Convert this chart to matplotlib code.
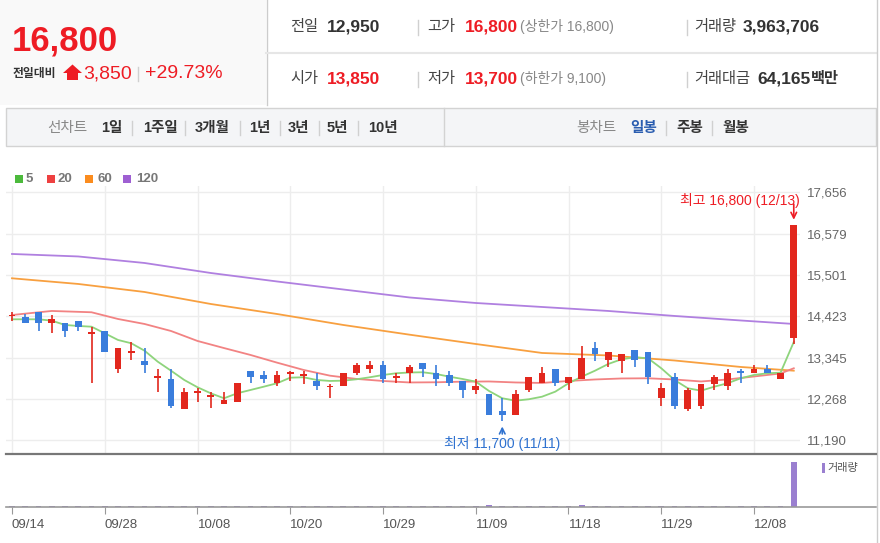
import numpy as np
import matplotlib
matplotlib.use('Agg')
import matplotlib.pyplot as plt
from matplotlib.patches import Rectangle, Polygon
from matplotlib.lines import Line2D

plt.rcParams['font.family'] = ['Liberation Sans', 'Noto Sans CJK KR']

# ---- data ----
dates = ['09/14', '09/15', '09/16', '09/17', '09/23', '09/24', '09/27', '09/28', '09/29', '09/30',
         '10/01', '10/05', '10/06', '10/07', '10/08', '10/12', '10/13', '10/14', '10/15', '10/18',
         '10/19', '10/20', '10/21', '10/22', '10/25', '10/26', '10/27', '10/28', '10/29', '11/01',
         '11/02', '11/03', '11/04', '11/05', '11/08', '11/09', '11/10', '11/11', '11/12', '11/15',
         '11/16', '11/17', '11/18', '11/19', '11/22', '11/23', '11/24', '11/25', '11/26', '11/29',
         '11/30', '12/01', '12/02', '12/03', '12/06', '12/07', '12/08', '12/09', '12/10', '12/13']

opens = [14450, 14400, 14550, 14250, 14250, 14300, 14000, 14050, 13050, 13500,
         13250, 12850, 12800, 12000, 12450, 12350, 12150, 12200, 13000, 12900,
         12700, 12950, 12900, 12750, 12600, 12600, 12950, 13050, 13150, 12850,
         12950, 13200, 12950, 12900, 12750, 12500, 12400, 11950, 11850, 12500,
         12700, 13050, 12700, 12800, 13600, 13300, 13250, 13550, 13500, 12300,
         12850, 12000, 12100, 12650, 12600, 13000, 12950, 13050, 12800, 13850]
highs = [14550, 14500, 14550, 14450, 14250, 14300, 14150, 14050, 13600, 13750,
         13600, 13050, 13050, 12550, 12550, 12450, 12450, 12700, 13000, 13000,
         13000, 13000, 13000, 12950, 12650, 12950, 13200, 13250, 13250, 12950,
         13150, 13200, 13150, 13000, 12750, 12800, 12400, 12300, 12500, 12850,
         13100, 13050, 12850, 13650, 13750, 13500, 13450, 13550, 13500, 12700,
         12950, 12550, 12650, 12900, 13050, 13050, 13150, 13150, 12950, 16800]
lows = [14300, 14250, 14050, 14000, 13900, 14050, 12700, 13500, 12950, 13300,
        12950, 12450, 12050, 12000, 12200, 12050, 12150, 12200, 12700, 12700,
        12600, 12750, 12650, 12500, 12300, 12600, 12900, 12950, 12700, 12700,
        12700, 12850, 12600, 12600, 12300, 12400, 11850, 11700, 11850, 12450,
        12700, 12600, 12500, 12800, 13250, 13100, 12950, 13100, 12650, 12100,
        12000, 11950, 12000, 12500, 12500, 12700, 12950, 12950, 12800, 13700]
closes = [14450, 14250, 14250, 14350, 14050, 14150, 14000, 13500, 13600, 13500,
          13150, 12850, 12100, 12450, 12450, 12350, 12250, 12700, 12850, 12800,
          12900, 12950, 12900, 12600, 12600, 12950, 13150, 13150, 12800, 12850,
          13100, 13050, 12800, 12700, 12500, 12600, 11850, 11850, 12400, 12850,
          12950, 12700, 12850, 13350, 13450, 13500, 13450, 13300, 12850, 12550,
          12100, 12500, 12650, 12850, 12950, 12950, 13050, 12950, 12950, 16800]
volumes = [6000, 5000, 7000, 4000, 5000, 4000, 8000, 7000, 7000, 4000,
           5000, 6000, 8000, 5000, 3000, 3000, 3000, 5000, 4000, 3000,
           4000, 2000, 2000, 3000, 3000, 4000, 5000, 3000, 4000, 2000,
           3000, 3000, 3000, 3000, 4000, 3000, 160000, 8000, 7000, 6000,
           5000, 5000, 4000, 150000, 7000, 5000, 5000, 4000, 6000, 5000,
           7000, 6000, 5000, 4000, 5000, 3000, 3000, 3000, 4000, 3963706]

ma5 = [14350, 14350, 14350, 14314, 14202, 14176, 14157, 13985, 13811, 13725,
       13532, 13245, 13010, 12768, 12578, 12421, 12291, 12421, 12507, 12593,
       12682, 12828, 12838, 12768, 12742, 12750, 12786, 12838, 12898, 12943,
       12963, 12969, 12924, 12854, 12794, 12724, 12481, 12291, 12228, 12265,
       12332, 12463, 12682, 12854, 13010, 13185, 13307, 13360, 13334, 13073,
       12768, 12552, 12489, 12593, 12682, 12812, 12898, 12943, 12958, 13758]
ma20_idx = [0, 3, 6, 8, 10, 12, 14, 16, 18, 20, 22, 24, 26, 28, 30, 32, 34, 36, 38, 40,
            42, 44, 46, 48, 50, 52, 54, 56, 58, 59]
ma20 = [14462, 14567, 14533, 14358, 14228, 14045, 13785, 13600, 13420, 13220, 13030, 12880,
        12795, 12742, 12703, 12708, 12724, 12729, 12703, 12690, 12742, 12781, 12807, 12812,
        12781, 12729, 12781, 12859, 12937, 13073]
ma_long_idx = [0, 5, 10, 15, 20, 25, 30, 35, 40, 45, 50, 55, 59]
ma60 = [15419, 15271, 15062, 14749, 14488, 14202, 13949, 13706, 13472, 13407, 13276, 13107, 13010]
ma120 = [16053, 15988, 15818, 15557, 15336, 15127, 14919, 14775, 14671, 14567, 14437, 14319, 14228]

price_ticks = [11190, 12268, 13345, 14423, 15501, 16579, 17656]
tick_every = 7

RED = '#e2271d'
BLUE = '#3a7ddc'
TXT_RED = '#ee1c24'
TXT_BLUE = '#2f72d0'

W, H = 880, 543
fig = plt.figure(figsize=(8.8, 5.43), dpi=100)


def fx(x):
    return x / W


def fy(y):
    return 1 - y / H


def hline(x0, x1, y, color, lw=1.0):
    fig.add_artist(Line2D([fx(x0), fx(x1)], [fy(y), fy(y)], color=color, lw=lw))


def vline(x, y0, y1, color, lw=1.0):
    fig.add_artist(Line2D([fx(x), fx(x)], [fy(y0), fy(y1)], color=color, lw=lw))


def label(x, y, s, size, color, weight='normal', ha='left'):
    fig.text(fx(x), fy(y), s, fontsize=size, color=color, fontweight=weight,
             ha=ha, va='center')


# ---- header ----
fig.add_artist(Rectangle((0, fy(105)), fx(266), 105 / H, facecolor='#f9f9f9',
                         edgecolor='none', zorder=0))
vline(266.5, 0, 105, '#cccccc')
hline(266, 876, 52.5, '#e6e6e6', 1.5)
vline(876.5, 0, 543, '#cccccc')

label(12, 41, '16,800', 25, TXT_RED, 'bold')
label(13, 74, '전일대비', 8.5, '#333333', 'bold')
fig.add_artist(Polygon([(fx(63), fy(73)), (fx(72.5), fy(64.5)), (fx(82), fy(73)),
                        (fx(78), fy(73)), (fx(78), fy(80)), (fx(67), fy(80)),
                        (fx(67), fy(73))], closed=True, facecolor=TXT_RED, edgecolor='none'))
label(83, 74, '3,850', 14, TXT_RED)
vline(138, 67, 81, '#d0d0d0')
label(145, 74, '+29.73%', 14, TXT_RED)

for y, items in [(27, [('전일', '12,950', '#333333', None), ('고가', '16,800', TXT_RED, '(상한가 16,800)'),
                       ('거래량', '3,963,706', '#333333', None)]),
                 (79, [('시가', '13,850', TXT_RED, None), ('저가', '13,700', TXT_RED, '(하한가 9,100)'),
                       ('거래대금', '64,165', '#333333', None)])]:
    xs = [(290, 327), (427, 465), (694, 743 if y == 27 else 757)]
    for (name, val, col, extra), (x0, x1) in zip(items, xs):
        label(x0, y, name, 11, '#444444')
        label(x1, y, val, 12.5, col, 'bold')
        if extra:
            label(520, y, extra, 10, '#888888')
    vline(418, y - 7, y + 8, '#d0d0d0')
    vline(687, y - 7, y + 8, '#d0d0d0')
label(811, 79, '백만', 11, '#333333', 'bold')

# ---- toolbar ----
fig.add_artist(Rectangle((fx(6), fy(146)), (876 - 6) / W, 38 / H, facecolor='#f4f5f7',
                         edgecolor='#d3d3d3', lw=1, zorder=0))
vline(444, 108, 146, '#d3d3d3')
label(47, 128, '선차트', 10.5, '#888888')
for x, s in [(101, '1일'), (143, '1주일'), (195, '3개월'), (249, '1년'), (288, '3년'),
             (327, '5년'), (368, '10년')]:
    label(x, 128, s, 10.5, '#333333', 'bold')
for x in [132, 185, 240, 280, 319, 358, 666, 712]:
    vline(x, 121, 135, '#d0d0d0')
label(576, 128, '봉차트', 10.5, '#888888')
label(630, 128, '일봉', 10.5, '#2a5db0', 'bold')
label(676, 128, '주봉', 10.5, '#333333', 'bold')
label(722, 128, '월봉', 10.5, '#333333', 'bold')

# ---- MA legend ----
for x, tx, s, c in [(15, 26, '5', '#4cba3c'), (47, 57, '20', '#ee4040'),
                    (85, 97, '60', '#fb8c1e'), (123, 136, '120', '#9e5fd2')]:
    fig.add_artist(Rectangle((fx(x), fy(183)), 8 / W, 8 / H, facecolor=c, edgecolor='none'))
    label(tx, 179.5, s, 9.5, '#777777', 'bold')

# ---- price pane ----
x = np.arange(len(dates))
ax1 = fig.add_axes([fx(6), fy(453), (800 - 6) / W, (453 - 186) / H])
ax1.set_xlim(-0.4528, 59.47)
ax1.set_ylim(10864, 17825)
for s in ax1.spines.values():
    s.set_visible(False)
ax1.set_xticks(x[::tick_every])
ax1.tick_params(axis='x', length=0, labelbottom=False)
ax1.yaxis.tick_right()
ax1.set_yticks(price_ticks, [f'{v:,}' for v in price_ticks])
ax1.tick_params(axis='y', length=0, pad=5, labelsize=9.5, labelcolor='#666666')
ax1.grid(color='#ededed', lw=1)
ax1.set_axisbelow(True)

ax1.plot(ma_long_idx, ma120, color='#b080e0', lw=1.3, zorder=2)
ax1.plot(ma_long_idx, ma60, color='#f8a040', lw=1.3, zorder=2)
ax1.plot(ma20_idx, ma20, color='#f28383', lw=1.3, zorder=2)
ax1.plot(x, ma5, color='#8ed47c', lw=1.3, zorder=2)

o = np.array(opens)
c = np.array(closes)
cols = np.where(c >= o, RED, BLUE)
ax1.vlines(x, lows, highs, colors=cols, lw=1.2, zorder=3)
body = np.abs(c - o)
bh = np.maximum(body, 45)
bottom = np.minimum(o, c) - (bh - body) / 2
ax1.bar(x, bh, bottom=bottom, width=0.5, color=cols, linewidth=0, zorder=4)

hi_i = int(np.argmax(highs))
lo_i = int(np.argmin(lows))
ax1.annotate('', xy=(hi_i, highs[hi_i]), xytext=(0, 21), textcoords='offset pixels',
             arrowprops=dict(arrowstyle='->', color=TXT_RED, lw=1.2, shrinkA=0, shrinkB=4))
ax1.annotate(f'최고 {highs[hi_i]:,} ({dates[hi_i]})', xy=(hi_i, highs[hi_i]),
             xytext=(6, 25), textcoords='offset pixels', ha='right', va='center',
             fontsize=10, color=TXT_RED, annotation_clip=False)
ax1.annotate('', xy=(lo_i, lows[lo_i]), xytext=(0, -13), textcoords='offset pixels',
             arrowprops=dict(arrowstyle='->', color=TXT_BLUE, lw=1.2, shrinkA=0, shrinkB=4))
ax1.annotate(f'최저 {lows[lo_i]:,} ({dates[lo_i]})', xy=(lo_i, lows[lo_i]),
             xytext=(0, -23), textcoords='offset pixels', ha='center', va='center',
             fontsize=10, color=TXT_BLUE, annotation_clip=False)

hline(6, 876, 453.5, '#777777', 1.6)

# ---- volume pane ----
ax2 = fig.add_axes([fx(6), fy(506.5), (876 - 6) / W, (506.5 - 455) / H])
ax2.set_xlim(-0.4528, 65.21)
ax2.set_ylim(0, 4.55e6)
ax2.bar(x, volumes, width=0.42, color='#9a7fd0', linewidth=0, zorder=1)
for k in ['top', 'left', 'right']:
    ax2.spines[k].set_visible(False)
ax2.spines['bottom'].set_color('#999999')
ax2.spines['bottom'].set_linewidth(1.2)
ax2.spines['bottom'].set_zorder(5)
ax2.set_yticks([])
ax2.set_xticks(x[::tick_every], dates[::tick_every])
for t in ax2.get_xticklabels():
    t.set_horizontalalignment('left')
ax2.tick_params(axis='x', length=5, color='#999999', labelsize=9.5, labelcolor='#555555', pad=4)

fig.add_artist(Rectangle((fx(822), fy(473)), 3 / W, 10 / H, facecolor='#9a7fd0', edgecolor='none'))
label(827, 468, '거래량', 8, '#555555')

fig.savefig('out.png', dpi=100)
